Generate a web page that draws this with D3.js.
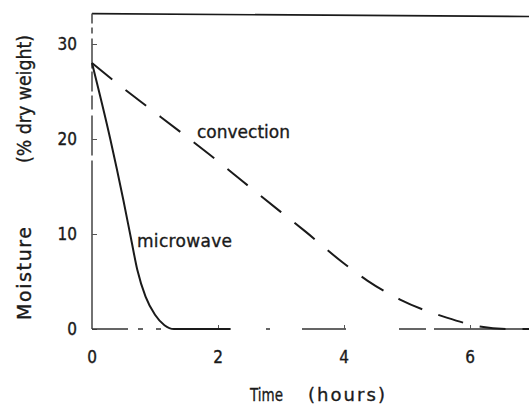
<!DOCTYPE html>
<html>
<head>
<meta charset="utf-8">
<script src="https://cdn.jsdelivr.net/npm/d3@7/dist/d3.min.js"></script>
<style>
html,body{margin:0;padding:0;background:#fff;}
svg{display:block;}
text{font-family:"DejaVu Sans",sans-serif;fill:#1a1a1a;stroke:#1a1a1a;stroke-width:0.35;}
</style>
</head>
<body>
<svg id="chart" width="529" height="407"></svg>
<script>
const xTicks = [0, 2, 4, 6];
const yTicks = [0, 10, 20, 30];
const microwaveT = [0, 0.29, 0.5, 0.62, 0.72, 0.85, 1.0, 1.15, 1.3, 2.2];
const microwaveM = [28, 20, 13.5, 9.5, 6.2, 3.4, 1.5, 0.4, 0, 0];
const convectionT = [0, 0.41, 0.76, 1.43, 2.03, 2.4, 3.0, 3.38, 3.98, 4.37, 4.89, 5.63, 6.13, 6.6, 7.1];
const convectionM = [28, 25.8, 24.0, 20.6, 17.5, 15.5, 12.3, 10.3, 7.0, 5.1, 3.1, 1.2, 0.3, 0, 0];
const frameTop = 33.2;

const svg = d3.select("#chart");
const x = d3.scaleLinear().domain([0, 6]).range([92, 470]);
const y = d3.scaleLinear().domain([0, 30]).range([329, 44]);
const ink = "#1a1a1a";

// frame: top line
svg.append("line").attr("x1", x(0)).attr("x2", x(7.2))
  .attr("y1", y(frameTop)).attr("y2", y(frameTop) + 3)
  .attr("stroke", ink).attr("stroke-width", 1.6);

// left axis
const yAxis = d3.axisRight(y).tickValues(yTicks).tickSize(5).tickFormat("");
const gy = svg.append("g").attr("transform", `translate(${x(0)},0)`).call(yAxis);
gy.select(".domain").attr("d", `M0,${y(frameTop)}V${y(0)}`).attr("stroke", "#444").attr("stroke-width", 1.5)
  .attr("stroke-dasharray", "10,4,6,5,30,3,20,4,14,6,40,5,300");
gy.selectAll(".tick line").attr("stroke", "#555").attr("stroke-width", 1);

// bottom axis
const xAxis = d3.axisTop(x).tickValues(xTicks.slice(1)).tickSize(4).tickFormat("");
const gx = svg.append("g").attr("transform", `translate(0,${y(0)})`).call(xAxis);
gx.select(".domain").attr("d", `M${x(0)},0H529`).attr("stroke", "#333").attr("stroke-width", 1.4)
  .attr("stroke-dasharray", "36,10,5,13,5,15,52,38,4,32,44,53,27,8,200");
gx.selectAll(".tick line").attr("stroke", "#555").attr("stroke-width", 1);

// tick labels
svg.append("g").selectAll("text").data(yTicks).join("text")
  .attr("x", 77).attr("y", d => y(d) + 6)
  .attr("text-anchor", "end").attr("font-size", 17)
  .style("font-family", "'DejaVu Sans Condensed','DejaVu Sans',sans-serif")
  .text(d => d);
svg.append("g").selectAll("text").data(xTicks).join("text")
  .attr("x", d => x(d)).attr("y", 363)
  .attr("text-anchor", "middle").attr("font-size", 17)
  .style("font-family", "'DejaVu Sans Condensed','DejaVu Sans',sans-serif")
  .text(d => d);

// axis titles
svg.append("text").attr("x", 250).attr("y", 401).attr("font-size", 18)
  .attr("textLength", 33).attr("lengthAdjust", "spacingAndGlyphs").text("Time");
svg.append("text").attr("x", 308).attr("y", 401).attr("font-size", 18)
  .attr("textLength", 77).attr("lengthAdjust", "spacing").text("(hours)");
svg.append("text").attr("transform", "translate(31,320) rotate(-90)").attr("font-size", 19)
  .attr("textLength", 93).attr("lengthAdjust", "spacing").text("Moisture");
svg.append("text").attr("transform", "translate(31,163) rotate(-90)").attr("font-size", 19)
  .attr("textLength", 128).attr("lengthAdjust", "spacingAndGlyphs").text("(% dry weight)");

// lines
const line = d3.line().x(d => x(d[0])).y(d => y(d[1])).curve(d3.curveMonotoneX);
const mw = microwaveT.map((t, i) => [t, microwaveM[i]]);
const cv = convectionT.map((t, i) => [t, convectionM[i]]);
svg.append("path").datum(mw).attr("d", line).attr("fill", "none")
  .attr("stroke", ink).attr("stroke-width", 2);
svg.append("path").datum(cv).attr("d", line).attr("fill", "none")
  .attr("stroke", ink).attr("stroke-width", 2).attr("stroke-dasharray", "26,17");

// series labels
svg.append("text").attr("x", 137).attr("y", 247).attr("font-size", 17)
  .attr("textLength", 95).attr("lengthAdjust", "spacing").text("microwave");
svg.append("text").attr("x", 197).attr("y", 138).attr("font-size", 17)
  .attr("textLength", 93).attr("lengthAdjust", "spacing").text("convection");
</script>
</body>
</html>
